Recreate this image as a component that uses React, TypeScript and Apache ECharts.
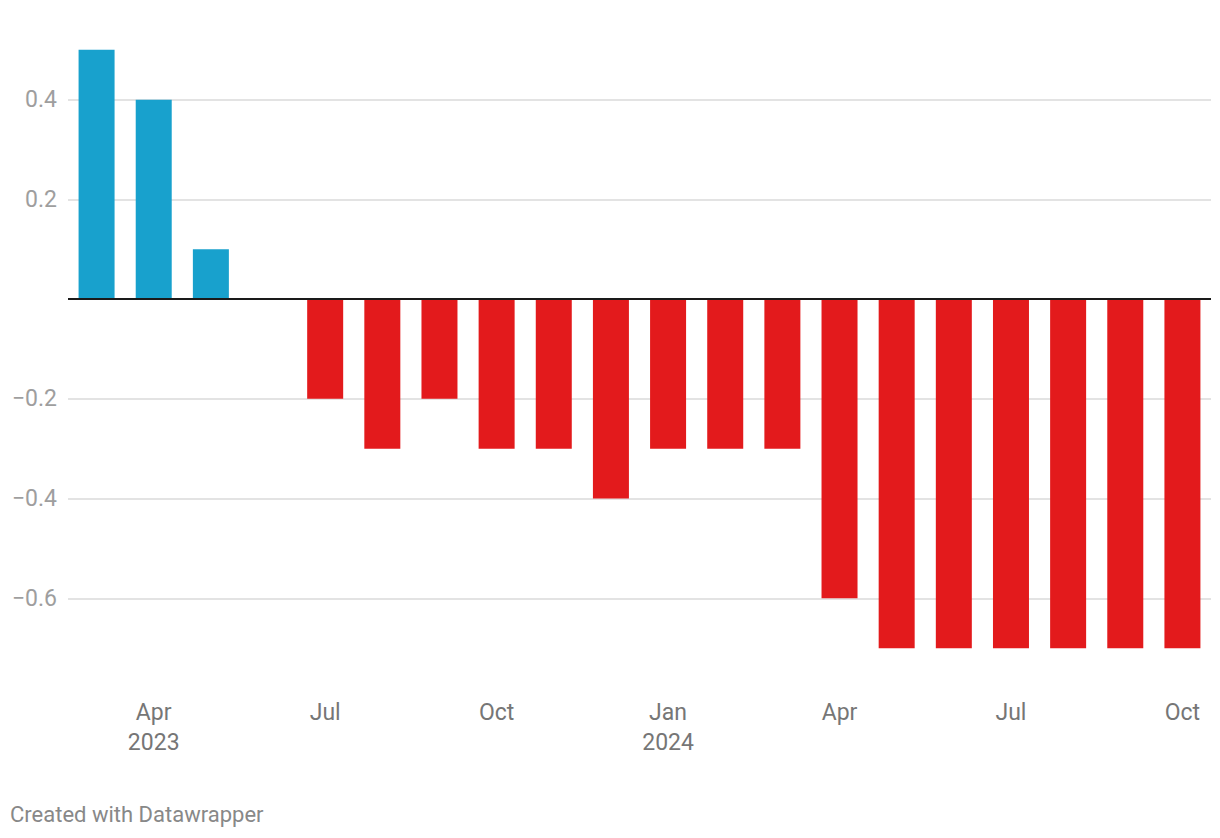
import React, { useEffect, useRef } from "react";
import * as echarts from "echarts";

const categories = [
  "2023-03", "2023-04", "2023-05", "2023-06", "2023-07", "2023-08", "2023-09",
  "2023-10", "2023-11", "2023-12", "2024-01", "2024-02", "2024-03", "2024-04",
  "2024-05", "2024-06", "2024-07", "2024-08", "2024-09", "2024-10",
];
const values: (number | null)[] = [
  0.5, 0.4, 0.1, null, -0.2, -0.3, -0.2, -0.3, -0.3, -0.4, -0.3, -0.3, -0.3,
  -0.6, -0.7, -0.7, -0.7, -0.7, -0.7, -0.7,
];
const tickLabels = [
  "", "Apr\n2023", "", "", "Jul", "", "", "Oct", "", "", "Jan\n2024", "", "",
  "Apr", "", "", "Jul", "", "", "Oct",
];
const yMin = -0.8;
const yMax = 0.6;
const yStep = 0.2;
const footer = "Created with Datawrapper";

const POS = "#18a1cd";
const NEG = "#e31a1c";

export default function App() {
  const ref = useRef<HTMLDivElement>(null);
  useEffect(() => {
    if (!ref.current) return;
    const chart = echarts.init(ref.current, null, { renderer: "svg" });
    const fmtNum = (v: number) => {
      const r = Math.round(v * 10) / 10;
      if (Math.abs(r) < 1e-9) return "";
      if (Math.abs(r - yMax) < 1e-9 || Math.abs(r - yMin) < 1e-9) return "";
      const s = Math.abs(r).toFixed(1);
      return r < 0 ? "\u2212" + s : s;
    };
    const nTicks = Math.round((yMax - yMin) / yStep) + 1;
    const splitColors: string[] = [];
    for (let i = 0; i < nTicks; i++) {
      const v = Math.round((yMin + i * yStep) * 10) / 10;
      if (i === 0 || i === nTicks - 1 || Math.abs(v) < 1e-9) splitColors.push("rgba(0,0,0,0)");
      else splitColors.push("#e3e3e3");
    }
    chart.setOption({
      animation: false,
      textStyle: { fontFamily: "Roboto" },
      grid: { left: 68, right: 9, top: -2, bottom: 140, containLabel: false },
      xAxis: {
        type: "category",
        data: categories,
        boundaryGap: true,
        axisLine: { show: false, onZero: false },
        axisTick: { show: false },
        axisLabel: {
          interval: 0,
          margin: -1,
          fontSize: 23,
          lineHeight: 30,
          color: "#767676",
          fontFamily: "Roboto",
          formatter: (_v: string, i: number) => tickLabels[i],
        },
        splitLine: { show: false },
      },
      yAxis: {
        type: "value",
        min: yMin,
        max: yMax,
        interval: yStep,
        axisLine: { show: false },
        axisTick: { show: false },
        axisLabel: {
          margin: 11,
          fontSize: 23,
          color: "#9e9e9e",
          fontFamily: "Roboto",
          formatter: (v: number) => fmtNum(v),
        },
        splitLine: { show: true, lineStyle: { color: splitColors, width: 2 } },
      },
      series: [
        {
          type: "bar",
          barWidth: 36,
          data: values.map((v) =>
            v === null
              ? null
              : { value: v, itemStyle: { color: v >= 0 ? POS : NEG } }
          ),
          markLine: {
            silent: true,
            symbol: "none",
            label: { show: false },
            lineStyle: { color: "#1a1a1a", width: 2, type: "solid" },
            data: [{ yAxis: 0 }],
          },
        },
      ],
      graphic: [
        {
          type: "text",
          left: 10,
          top: 803,
          style: {
            text: footer,
            fontSize: 22,
            fill: "#888888",
            fontFamily: "Roboto",
          },
        },
      ],
    });
    return () => chart.dispose();
  }, []);
  return (
    <div
      ref={ref}
      style={{ position: "absolute", left: 0, top: 0, width: 1220, height: 838 }}
    />
  );
}
